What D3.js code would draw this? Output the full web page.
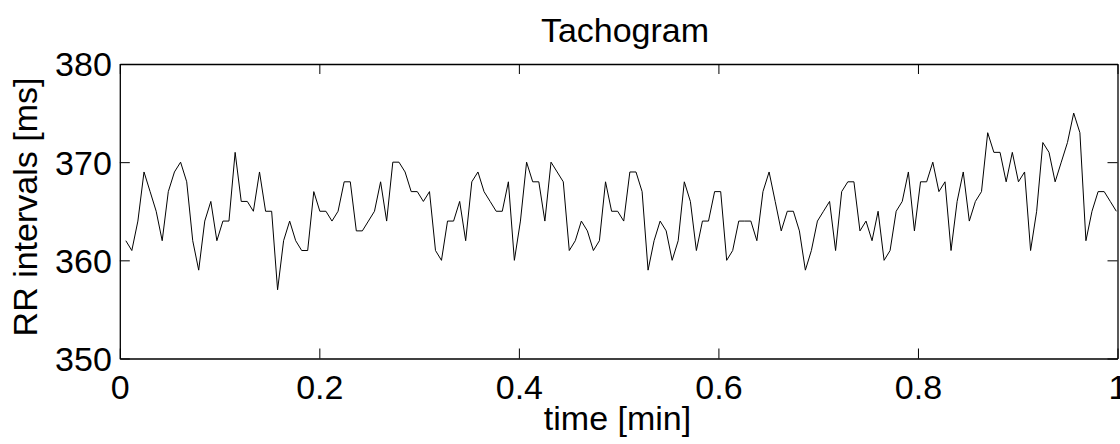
<!DOCTYPE html>
<html>
<head>
<meta charset="utf-8">
<script src="https://cdn.jsdelivr.net/npm/d3@7"></script>
<style>
  body { margin: 0; background: #fff; }
  svg text { font-family: "Liberation Sans", Helvetica, Arial, sans-serif; fill: #000; }
</style>
</head>
<body>
<svg id="chart"></svg>
<script>
// RR intervals [ms] in four chunks (left to right)
const rrPart1 = [362, 361, 364, 369, 367, 365, 362, 367, 369, 370, 368, 362, 359, 364, 366, 362, 364, 364, 371, 366,
                 366, 365, 369, 365, 365, 357, 362, 364, 362, 361, 361, 367, 365, 365, 364, 365, 368, 368, 363, 363];
const rrPart2 = [364, 365, 368, 364, 370, 370, 369, 367, 367, 366, 367, 361, 360, 364, 364, 366, 362, 368, 369, 367,
                 366, 365, 365, 368, 360, 364, 370, 368, 368, 364, 370, 369, 368, 361, 362, 364, 363, 361, 362, 368, 365, 365];
const rrPart3 = [364, 369, 369, 367, 359, 362, 364, 363, 360, 362, 368, 366, 361, 364, 364, 367, 367, 360, 361, 364,
                 364, 364, 362, 367, 369, 366, 363, 365, 365, 363, 359, 361, 364, 365, 366, 361, 367, 368, 368, 363, 364];
const rrPart4 = [362, 365, 360, 361, 365, 366, 369, 363, 368, 368, 370, 367, 368, 361, 366, 369, 364, 366, 367, 373,
                 371, 371, 368, 371, 368, 369, 361, 365, 372, 371, 368, 370, 372, 375, 373, 362, 365, 367, 367, 366, 365];

const xTicks = [0, 0.2, 0.4, 0.6, 0.8, 1];
const yTicks = [350, 360, 370, 380];

const titleText = "Tachogram";
const xLabelText = "time [min]";
const yLabelText = "RR intervals [ms]";

// each beat sits at the cumulative time of the intervals so far, in minutes
const rr = rrPart1.concat(rrPart2, rrPart3, rrPart4);
const beats = [];
let elapsed = 0;
rr.forEach(v => {
    elapsed += v;
    beats.push({ t: elapsed / 60000, rr: v });
});

const width = 1120, height = 444;
const margin = { top: 64, right: 2.5, bottom: 85.5, left: 119.8 };

const svg = d3.select('#chart')
    .attr('width', width)
    .attr('height', height);

const x = d3.scaleLinear()
    .domain([0, 1])
    .range([margin.left, width - margin.right]);

const y = d3.scaleLinear()
    .domain([350, 380])
    .range([height - margin.bottom, margin.top]);

const fmtX = d => d === 0 || d === 1 ? String(d) : d.toFixed(1);

// clip so the line stops at the box
svg.append('clipPath').attr('id', 'plotClip')
    .append('rect')
    .attr('x', x(0)).attr('y', y(380))
    .attr('width', x(1) - x(0)).attr('height', y(350) - y(380));

svg.append('path')
    .datum(beats)
    .attr('clip-path', 'url(#plotClip)')
    .attr('fill', 'none')
    .attr('stroke', '#000')
    .attr('stroke-width', 1)
    .attr('stroke-linejoin', 'miter')
    .attr('d', d3.line().x(d => x(d.t)).y(d => y(d.rr)));

// axes: ticks point inwards, labels only bottom and left
const tickLen = 10;
const fontSize = 34;

const gBottom = svg.append('g')
    .attr('transform', `translate(0,${y(350)})`)
    .call(d3.axisBottom(x).tickValues(xTicks).tickFormat(fmtX)
        .tickSizeInner(-tickLen).tickSizeOuter(0).tickPadding(16));

const gTop = svg.append('g')
    .attr('transform', `translate(0,${y(380)})`)
    .call(d3.axisTop(x).tickValues(xTicks).tickFormat('')
        .tickSizeInner(-tickLen).tickSizeOuter(0));

const gLeft = svg.append('g')
    .attr('transform', `translate(${x(0)},0)`)
    .call(d3.axisLeft(y).tickValues(yTicks).tickFormat(d3.format('d'))
        .tickSizeInner(-tickLen).tickSizeOuter(0).tickPadding(8));

const gRight = svg.append('g')
    .attr('transform', `translate(${x(1)},0)`)
    .call(d3.axisRight(y).tickValues(yTicks).tickFormat('')
        .tickSizeInner(-tickLen).tickSizeOuter(0));

[gBottom, gTop, gLeft, gRight].forEach(g => {
    g.select('.domain').attr('stroke', '#000').attr('stroke-width', 1.3);
    g.selectAll('.tick line').attr('stroke', '#000').attr('stroke-width', 1);
    g.selectAll('.tick text')
        .attr('font-family', '"Liberation Sans", Helvetica, Arial, sans-serif')
        .attr('font-size', fontSize)
        .attr('fill', '#000');
});

gLeft.selectAll('.tick text').attr('dy', '0.35em');

// title and axis labels
svg.append('text')
    .attr('x', 625)
    .attr('y', 42)
    .attr('text-anchor', 'middle')
    .attr('font-size', fontSize)
    .text(titleText);

svg.append('text')
    .attr('x', 617.5)
    .attr('y', 430)
    .attr('text-anchor', 'middle')
    .attr('font-size', fontSize)
    .text(xLabelText);

svg.append('text')
    .attr('transform', 'translate(37,207) rotate(-90)')
    .attr('text-anchor', 'middle')
    .attr('font-size', fontSize)
    .text(yLabelText);
</script>
</body>
</html>
